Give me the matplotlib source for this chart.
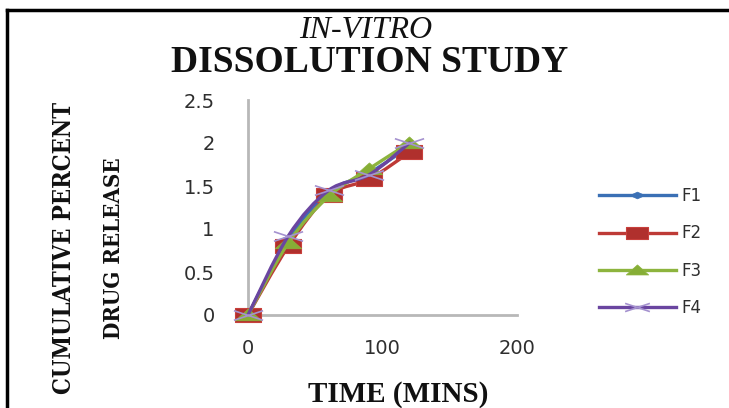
import numpy as np
import matplotlib
matplotlib.use("Agg")
import matplotlib.pyplot as plt
from matplotlib.path import Path
from matplotlib.patches import PathPatch
from matplotlib.lines import Line2D
from matplotlib import font_manager

# ---- data ----
time_min = [0, 30, 60, 90, 120]
F1 = [0, 0.88, 1.43, 1.65, 1.96]
F2 = [0, 0.80, 1.39, 1.58, 1.89]
F3 = [0, 0.84, 1.38, 1.70, 2.00]
F4 = [0, 0.92, 1.45, 1.63, 2.00]
series_names = ["F1", "F2", "F3", "F4"]
x_ticks = [0, 100, 200]
y_ticks = [0, 0.5, 1, 1.5, 2, 2.5]
y_tick_labels = ["0", "0.5", "1", "1.5", "2", "2.5"]

W, H = 729, 408
fig = plt.figure(figsize=(W / 100, H / 100), dpi=100)

def fx(px):
    return px / W

def fy(py):
    return 1 - py / H

ax = fig.add_axes([fx(248), fy(315), (517 - 248) / W, (315 - 100) / H])
ax.set_xlim(0, 200)
ax.set_ylim(0, 2.5)
for s in ["top", "right"]:
    ax.spines[s].set_visible(False)
for s in ["left", "bottom"]:
    ax.spines[s].set_color("#B8B8B8")
    ax.spines[s].set_linewidth(2.0)
ax.set_xticks(x_ticks)
ax.set_yticks(y_ticks)
ax.set_yticklabels(y_tick_labels)
ax.tick_params(length=0, labelsize=14, labelcolor="#2E2E2E")
ax.tick_params(axis="y", pad=24)
ax.tick_params(axis="x", pad=17)


def smooth_path(x, y):
    pts = np.column_stack([x, y]).astype(float)
    n = len(pts)
    verts = [pts[0]]
    codes = [Path.MOVETO]
    for i in range(n - 1):
        p0 = pts[i - 1] if i > 0 else pts[i]
        p1 = pts[i]
        p2 = pts[i + 1]
        p3 = pts[i + 2] if i + 2 < n else pts[i + 1]
        c1 = p1 + (p2 - p0) / 6.0
        c2 = p2 - (p3 - p1) / 6.0
        verts += [c1, c2, p2]
        codes += [Path.CURVE4] * 3
    return Path(verts, codes)


# wide marker shapes (the chart is horizontally stretched)
m_diamond = Path([(-1, 0), (0, 0.45), (1, 0), (0, -0.45), (-1, 0)],
                 [Path.MOVETO, Path.LINETO, Path.LINETO, Path.LINETO, Path.CLOSEPOLY])
m_rect = Path([(-1, -0.52), (1, -0.52), (1, 0.52), (-1, 0.52), (-1, -0.52)],
              [Path.MOVETO, Path.LINETO, Path.LINETO, Path.LINETO, Path.CLOSEPOLY])
m_tri = Path([(-1, -0.4), (1, -0.4), (0, 0.5), (-1, -0.4)],
             [Path.MOVETO, Path.LINETO, Path.LINETO, Path.CLOSEPOLY])
m_x = Path([(-1, -0.33), (1, 0.33), (-1, 0.33), (1, -0.33)],
           [Path.MOVETO, Path.LINETO, Path.MOVETO, Path.LINETO])

styles = [
    dict(data=F1, color="#3A70B5", marker=m_diamond, ms=12, mfc="#3A70B5", mec="#3A70B5", mew=0.5),
    dict(data=F2, color="#BE3A36", marker=m_rect, ms=19, mfc="#B0302D", mec="#C8403C", mew=0.8),
    dict(data=F3, color="#8DB43E", marker=m_tri, ms=19, mfc="#86AE36", mec="#8DB43E", mew=0.5),
    dict(data=F4, color="#6A45A0", marker=m_x, ms=21, mfc="none", mec="#A592CF", mew=1.2),
]

handles = []
for k, st in enumerate(styles):
    z = 3 + k * 2
    patch = PathPatch(smooth_path(time_min, st["data"]), facecolor="none",
                      edgecolor=st["color"], lw=2.4, zorder=z, capstyle="round",
                      joinstyle="round", transform=ax.transData, clip_on=False)
    ax.add_patch(patch)
    ax.plot(time_min, st["data"], linestyle="none", marker=st["marker"], ms=st["ms"],
            mfc=st["mfc"], mec=st["mec"], mew=st["mew"], zorder=z + 1, clip_on=False)
    handles.append(Line2D([], [], color=st["color"], lw=2.4, marker=st["marker"],
                          ms=st["ms"] * (0.85 if k else 0.9), mfc=st["mfc"], mec=st["mec"],
                          mew=st["mew"], label=series_names[k]))

leg = fig.legend(handles=handles, loc="center left", bbox_to_anchor=(fx(599), fy(252)),
                 frameon=False, fontsize=12, handlelength=4.6, handletextpad=0.35,
                 labelspacing=1.15, borderpad=0, borderaxespad=0)
for t in leg.get_texts():
    t.set_color("#2E2E2E")

# ---- titles ----
serif = "Liberation Serif"
fig.text(fx(366), fy(30), "IN-VITRO", ha="center", va="center", family=serif,
         style="italic", fontsize=23, color="#111111")
fig.text(fx(370), fy(62), "DISSOLUTION STUDY", ha="center", va="center", family=serif,
         weight="bold", fontsize=27, color="#111111")
fig.text(fx(398), fy(395), "TIME (MINS)", ha="center", va="center", family=serif,
         weight="bold", fontsize=21, color="#111111")

# y label: condensed bold serif if available
names = {f.name for f in font_manager.fontManager.ttflist}
if "Liberation Sans Narrow" in names:
    yfam, ystretch, ysize1, ysize2 = "Liberation Sans Narrow", "condensed", 24, 22
elif "DejaVu Serif" in names:
    yfam, ystretch, ysize1, ysize2 = "DejaVu Serif", "condensed", 17, 16
else:
    yfam, ystretch, ysize1, ysize2 = serif, "normal", 17, 16
fig.text(fx(64), fy(248), "CUMULATIVE PERCENT", ha="center", va="center", rotation=90,
         family=yfam, stretch=ystretch, weight="bold", fontsize=ysize1, color="#111111")
fig.text(fx(114), fy(248), "DRUG RELEASE", ha="center", va="center", rotation=90,
         family=yfam, stretch=ystretch, weight="bold", fontsize=ysize2, color="#111111")

# ---- frame lines (top & left) ----
fig.add_artist(Line2D([fx(7), 1.0], [fy(10), fy(10)], color="black", lw=2.5))
fig.add_artist(Line2D([fx(7), fx(7)], [fy(10), 0.0], color="black", lw=2.5))

fig.savefig("out.png", dpi=100)
